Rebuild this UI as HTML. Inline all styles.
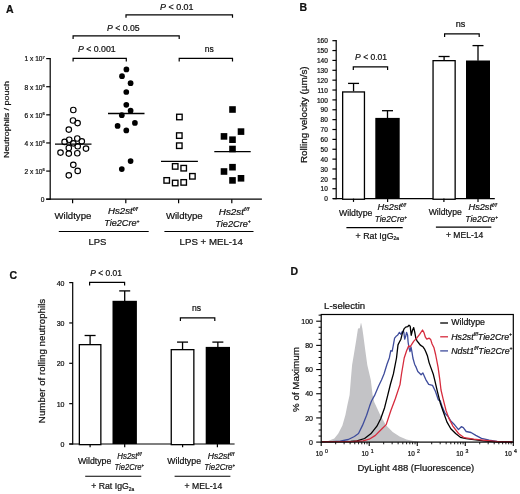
<!DOCTYPE html>
<html><head><meta charset="utf-8"><style>
html,body{margin:0;padding:0;background:#fff;}
svg{display:block;will-change:transform;}
text{font-family:"Liberation Sans",sans-serif;fill:#111;stroke:#111;stroke-width:0.22px;}
</style></head><body>
<svg width="520" height="494" viewBox="0 0 520 494">
<rect width="520" height="494" fill="#fff"/>
<text x="6" y="13.3" font-size="10.5" text-anchor="start" font-weight="bold">A</text>
<line x1="50.2" y1="58" x2="50.2" y2="199.8" stroke="#000" stroke-width="1.2"/>
<line x1="46.2" y1="58.6" x2="50.2" y2="58.6" stroke="#000" stroke-width="1.2"/>
<text x="44.9" y="61.4" font-size="6.6" text-anchor="end">1 x 10<tspan font-size="4.2" dy="-2.6">7</tspan></text>
<line x1="46.2" y1="86.72" x2="50.2" y2="86.72" stroke="#000" stroke-width="1.2"/>
<text x="44.9" y="89.52" font-size="6.6" text-anchor="end">8 x 10<tspan font-size="4.2" dy="-2.6">6</tspan></text>
<line x1="46.2" y1="114.84" x2="50.2" y2="114.84" stroke="#000" stroke-width="1.2"/>
<text x="44.9" y="117.64" font-size="6.6" text-anchor="end">6 x 10<tspan font-size="4.2" dy="-2.6">6</tspan></text>
<line x1="46.2" y1="142.96" x2="50.2" y2="142.96" stroke="#000" stroke-width="1.2"/>
<text x="44.9" y="145.76" font-size="6.6" text-anchor="end">4 x 10<tspan font-size="4.2" dy="-2.6">6</tspan></text>
<line x1="46.2" y1="171.08" x2="50.2" y2="171.08" stroke="#000" stroke-width="1.2"/>
<text x="44.9" y="173.88" font-size="6.6" text-anchor="end">2 x 10<tspan font-size="4.2" dy="-2.6">6</tspan></text>
<line x1="46.2" y1="199.2" x2="50.2" y2="199.2" stroke="#000" stroke-width="1.2"/>
<text x="44.4" y="202" font-size="6.6" text-anchor="end">0</text>
<line x1="46.2" y1="199.2" x2="261.9" y2="199.2" stroke="#000" stroke-width="1.2"/>
<line x1="72.6" y1="199.2" x2="72.6" y2="203.2" stroke="#000" stroke-width="1.2"/>
<line x1="125.8" y1="199.2" x2="125.8" y2="203.2" stroke="#000" stroke-width="1.2"/>
<line x1="178.6" y1="199.2" x2="178.6" y2="203.2" stroke="#000" stroke-width="1.2"/>
<line x1="231.8" y1="199.2" x2="231.8" y2="203.2" stroke="#000" stroke-width="1.2"/>
<text transform="translate(8.7,119.6) rotate(-90)" font-size="8.1" text-anchor="middle" textLength="76.9" lengthAdjust="spacingAndGlyphs">Neutrophils / pouch</text>
<path d="M126 17.8V14.8H232.5V17.8" fill="none" stroke="#000" stroke-width="1.2"/>
<path d="M73.1 39V35.8H179.2V39" fill="none" stroke="#000" stroke-width="1.2"/>
<path d="M73.1 61.5V58.3H126.3V61.5" fill="none" stroke="#000" stroke-width="1.2"/>
<path d="M179.2 61.5V58.3H232.5V61.5" fill="none" stroke="#000" stroke-width="1.2"/>
<text transform="translate(160 9.6) scale(1.04 1)" font-size="8.6" xml:space="preserve"><tspan font-style="italic">P</tspan><tspan> < 0.01</tspan></text>
<text transform="translate(107.1 31.3) scale(1.01 1)" font-size="8.6" xml:space="preserve"><tspan font-style="italic">P</tspan><tspan> < 0.05</tspan></text>
<text transform="translate(77.9 52.3) scale(1.02 1)" font-size="8.6" xml:space="preserve"><tspan font-style="italic">P</tspan><tspan> < 0.001</tspan></text>
<text transform="translate(204.8 52.3) scale(0.97 1)" font-size="8.8" xml:space="preserve"><tspan>ns</tspan></text>
<circle cx="73.3" cy="110" r="2.75" fill="none" stroke="#000" stroke-width="1.15"/>
<circle cx="73" cy="120.5" r="2.75" fill="none" stroke="#000" stroke-width="1.15"/>
<circle cx="77.6" cy="123.1" r="2.75" fill="none" stroke="#000" stroke-width="1.15"/>
<circle cx="68.8" cy="129.6" r="2.75" fill="none" stroke="#000" stroke-width="1.15"/>
<circle cx="64.6" cy="141.9" r="2.75" fill="none" stroke="#000" stroke-width="1.15"/>
<circle cx="69.2" cy="139.7" r="2.75" fill="none" stroke="#000" stroke-width="1.15"/>
<circle cx="77.3" cy="138.5" r="2.75" fill="none" stroke="#000" stroke-width="1.15"/>
<circle cx="81.8" cy="141.3" r="2.75" fill="none" stroke="#000" stroke-width="1.15"/>
<circle cx="73.3" cy="143.3" r="2.75" fill="none" stroke="#000" stroke-width="1.15"/>
<circle cx="68.8" cy="148" r="2.75" fill="none" stroke="#000" stroke-width="1.15"/>
<circle cx="77.7" cy="146.2" r="2.75" fill="none" stroke="#000" stroke-width="1.15"/>
<circle cx="86" cy="148.6" r="2.75" fill="none" stroke="#000" stroke-width="1.15"/>
<circle cx="60.5" cy="152.6" r="2.75" fill="none" stroke="#000" stroke-width="1.15"/>
<circle cx="68.8" cy="153.6" r="2.75" fill="none" stroke="#000" stroke-width="1.15"/>
<circle cx="77.3" cy="153.2" r="2.75" fill="none" stroke="#000" stroke-width="1.15"/>
<circle cx="73.3" cy="164.8" r="2.75" fill="none" stroke="#000" stroke-width="1.15"/>
<circle cx="77.7" cy="170.9" r="2.75" fill="none" stroke="#000" stroke-width="1.15"/>
<circle cx="68.8" cy="175.3" r="2.75" fill="none" stroke="#000" stroke-width="1.15"/>
<circle cx="126.4" cy="69.4" r="2.85" fill="#000"/>
<circle cx="122" cy="76.2" r="2.85" fill="#000"/>
<circle cx="130.6" cy="83.2" r="2.85" fill="#000"/>
<circle cx="126.3" cy="92" r="2.85" fill="#000"/>
<circle cx="126.3" cy="104.8" r="2.85" fill="#000"/>
<circle cx="130.6" cy="110.7" r="2.85" fill="#000"/>
<circle cx="121.8" cy="115.2" r="2.85" fill="#000"/>
<circle cx="134.9" cy="122.9" r="2.85" fill="#000"/>
<circle cx="117.6" cy="125.9" r="2.85" fill="#000"/>
<circle cx="126.3" cy="130.4" r="2.85" fill="#000"/>
<circle cx="130.6" cy="161.1" r="2.85" fill="#000"/>
<circle cx="121.8" cy="169.1" r="2.85" fill="#000"/>
<rect x="176.65" y="114.25" width="5.5" height="5.5" fill="none" stroke="#000" stroke-width="1.35"/>
<rect x="176.55" y="132.85" width="5.5" height="5.5" fill="none" stroke="#000" stroke-width="1.35"/>
<rect x="176.55" y="142.95" width="5.5" height="5.5" fill="none" stroke="#000" stroke-width="1.35"/>
<rect x="172.45" y="163.65" width="5.5" height="5.5" fill="none" stroke="#000" stroke-width="1.35"/>
<rect x="180.95" y="165.45" width="5.5" height="5.5" fill="none" stroke="#000" stroke-width="1.35"/>
<rect x="189.65" y="173.55" width="5.5" height="5.5" fill="none" stroke="#000" stroke-width="1.35"/>
<rect x="163.95" y="177.65" width="5.5" height="5.5" fill="none" stroke="#000" stroke-width="1.35"/>
<rect x="172.45" y="180.25" width="5.5" height="5.5" fill="none" stroke="#000" stroke-width="1.35"/>
<rect x="180.95" y="179.65" width="5.5" height="5.5" fill="none" stroke="#000" stroke-width="1.35"/>
<rect x="229.2" y="106.2" width="6.6" height="6.6" fill="#000"/>
<rect x="237.7" y="128.3" width="6.6" height="6.6" fill="#000"/>
<rect x="220.7" y="133.1" width="6.6" height="6.6" fill="#000"/>
<rect x="229.2" y="136.4" width="6.6" height="6.6" fill="#000"/>
<rect x="229.2" y="145.7" width="6.6" height="6.6" fill="#000"/>
<rect x="229.2" y="163.9" width="6.6" height="6.6" fill="#000"/>
<rect x="220.7" y="168.2" width="6.6" height="6.6" fill="#000"/>
<rect x="229.2" y="177.1" width="6.6" height="6.6" fill="#000"/>
<rect x="237.7" y="175" width="6.6" height="6.6" fill="#000"/>
<line x1="55" y1="144.1" x2="91.5" y2="144.1" stroke="#000" stroke-width="1.3"/>
<line x1="108" y1="113.5" x2="144.5" y2="113.5" stroke="#000" stroke-width="1.3"/>
<line x1="161" y1="161.3" x2="197.9" y2="161.3" stroke="#000" stroke-width="1.3"/>
<line x1="214.3" y1="151.6" x2="250.7" y2="151.6" stroke="#000" stroke-width="1.3"/>
<text transform="translate(54.5 219.1) scale(0.97 1)" font-size="9.9" xml:space="preserve"><tspan>Wildtype</tspan></text>
<text transform="translate(108 214.4) scale(1.03 1)" font-size="9.4" xml:space="preserve"><tspan font-style="italic">Hs2st</tspan><tspan font-style="italic" font-size="5.8" dy="-3.1">f/f</tspan></text>
<text transform="translate(104.2 226.4) scale(0.97 1)" font-size="9.4" xml:space="preserve"><tspan font-style="italic">Tie2Cre</tspan><tspan font-style="italic" font-size="5.2" dy="-3.1">+</tspan></text>
<line x1="58.8" y1="231.5" x2="148.7" y2="231.5" stroke="#000" stroke-width="1.1"/>
<text transform="translate(88.4 245.4) scale(0.99 1)" font-size="9.6" xml:space="preserve"><tspan>LPS</tspan></text>
<text transform="translate(165.9 219.2) scale(0.97 1)" font-size="9.9" xml:space="preserve"><tspan>Wildtype</tspan></text>
<text transform="translate(218.8 214.5) scale(1.05 1)" font-size="9.4" xml:space="preserve"><tspan font-style="italic">Hs2st</tspan><tspan font-style="italic" font-size="5.8" dy="-3.1">f/f</tspan></text>
<text transform="translate(215.2 226.5) scale(0.98 1)" font-size="9.4" xml:space="preserve"><tspan font-style="italic">Tie2Cre</tspan><tspan font-style="italic" font-size="5.2" dy="-3.1">+</tspan></text>
<line x1="164.4" y1="231.5" x2="253.5" y2="231.5" stroke="#000" stroke-width="1.1"/>
<text transform="translate(179.6 245.4) scale(1.01 1)" font-size="9.6" xml:space="preserve"><tspan>LPS + MEL-14</tspan></text>
<text x="299.6" y="11.2" font-size="10.5" text-anchor="start" font-weight="bold">B</text>
<line x1="336.2" y1="40.08" x2="336.2" y2="199.2" stroke="#000" stroke-width="1.2"/>
<line x1="332.4" y1="198.6" x2="336.2" y2="198.6" stroke="#000" stroke-width="1.2"/>
<text x="327.8" y="201.3" font-size="6.5" text-anchor="end">0</text>
<line x1="332.4" y1="188.73" x2="336.2" y2="188.73" stroke="#000" stroke-width="1.2"/>
<text x="327.8" y="191.43" font-size="6.5" text-anchor="end">10</text>
<line x1="332.4" y1="178.86" x2="336.2" y2="178.86" stroke="#000" stroke-width="1.2"/>
<text x="327.8" y="181.56" font-size="6.5" text-anchor="end">20</text>
<line x1="332.4" y1="168.99" x2="336.2" y2="168.99" stroke="#000" stroke-width="1.2"/>
<text x="327.8" y="171.69" font-size="6.5" text-anchor="end">30</text>
<line x1="332.4" y1="159.12" x2="336.2" y2="159.12" stroke="#000" stroke-width="1.2"/>
<text x="327.8" y="161.82" font-size="6.5" text-anchor="end">40</text>
<line x1="332.4" y1="149.25" x2="336.2" y2="149.25" stroke="#000" stroke-width="1.2"/>
<text x="327.8" y="151.95" font-size="6.5" text-anchor="end">50</text>
<line x1="332.4" y1="139.38" x2="336.2" y2="139.38" stroke="#000" stroke-width="1.2"/>
<text x="327.8" y="142.08" font-size="6.5" text-anchor="end">60</text>
<line x1="332.4" y1="129.51" x2="336.2" y2="129.51" stroke="#000" stroke-width="1.2"/>
<text x="327.8" y="132.21" font-size="6.5" text-anchor="end">70</text>
<line x1="332.4" y1="119.64" x2="336.2" y2="119.64" stroke="#000" stroke-width="1.2"/>
<text x="327.8" y="122.34" font-size="6.5" text-anchor="end">80</text>
<line x1="332.4" y1="109.77" x2="336.2" y2="109.77" stroke="#000" stroke-width="1.2"/>
<text x="327.8" y="112.47" font-size="6.5" text-anchor="end">90</text>
<line x1="332.4" y1="99.9" x2="336.2" y2="99.9" stroke="#000" stroke-width="1.2"/>
<text x="327.8" y="102.6" font-size="6.5" text-anchor="end">100</text>
<line x1="332.4" y1="90.03" x2="336.2" y2="90.03" stroke="#000" stroke-width="1.2"/>
<text x="327.8" y="92.73" font-size="6.5" text-anchor="end">110</text>
<line x1="332.4" y1="80.16" x2="336.2" y2="80.16" stroke="#000" stroke-width="1.2"/>
<text x="327.8" y="82.86" font-size="6.5" text-anchor="end">120</text>
<line x1="332.4" y1="70.29" x2="336.2" y2="70.29" stroke="#000" stroke-width="1.2"/>
<text x="327.8" y="72.99" font-size="6.5" text-anchor="end">130</text>
<line x1="332.4" y1="60.42" x2="336.2" y2="60.42" stroke="#000" stroke-width="1.2"/>
<text x="327.8" y="63.12" font-size="6.5" text-anchor="end">140</text>
<line x1="332.4" y1="50.55" x2="336.2" y2="50.55" stroke="#000" stroke-width="1.2"/>
<text x="327.8" y="53.25" font-size="6.5" text-anchor="end">150</text>
<line x1="332.4" y1="40.68" x2="336.2" y2="40.68" stroke="#000" stroke-width="1.2"/>
<text x="327.8" y="43.38" font-size="6.5" text-anchor="end">160</text>
<line x1="333" y1="198.6" x2="494.8" y2="198.6" stroke="#000" stroke-width="1.2"/>
<text transform="translate(307.4,114.7) rotate(-90)" font-size="8.4" text-anchor="middle" textLength="96.6" lengthAdjust="spacingAndGlyphs">Rolling velocity (µm/s)</text>
<line x1="353.55" y1="91.3" x2="353.55" y2="83.4" stroke="#000" stroke-width="1.3"/>
<line x1="348.05" y1="83.4" x2="359.05" y2="83.4" stroke="#000" stroke-width="1.3"/>
<rect x="342.65" y="91.95" width="21.8" height="107.3" fill="#fff" stroke="#000" stroke-width="1.3"/>
<line x1="387.5" y1="118.2" x2="387.5" y2="110.7" stroke="#000" stroke-width="1.3"/>
<line x1="382" y1="110.7" x2="393" y2="110.7" stroke="#000" stroke-width="1.3"/>
<rect x="375.3" y="117.9" width="24.4" height="80.7" fill="#000"/>
<line x1="444.1" y1="60" x2="444.1" y2="56.5" stroke="#000" stroke-width="1.3"/>
<line x1="438.6" y1="56.5" x2="449.6" y2="56.5" stroke="#000" stroke-width="1.3"/>
<rect x="433.05" y="60.65" width="22.1" height="138.6" fill="#fff" stroke="#000" stroke-width="1.3"/>
<line x1="478" y1="60.8" x2="478" y2="45.6" stroke="#000" stroke-width="1.3"/>
<line x1="472.5" y1="45.6" x2="483.5" y2="45.6" stroke="#000" stroke-width="1.3"/>
<rect x="466" y="60.5" width="24" height="138.1" fill="#000"/>
<line x1="353.5" y1="198.6" x2="353.5" y2="201.9" stroke="#000" stroke-width="1.2"/>
<line x1="387.6" y1="198.6" x2="387.6" y2="201.9" stroke="#000" stroke-width="1.2"/>
<line x1="443.9" y1="198.6" x2="443.9" y2="201.9" stroke="#000" stroke-width="1.2"/>
<line x1="478" y1="198.6" x2="478" y2="201.9" stroke="#000" stroke-width="1.2"/>
<path d="M353.3 70.1V66.9H387.6V70.1" fill="none" stroke="#000" stroke-width="1.2"/>
<text transform="translate(355.1 59.9) scale(1 1)" font-size="8.5" xml:space="preserve"><tspan font-style="italic">P</tspan><tspan> < 0.01</tspan></text>
<path d="M444.6 36.9V33.8H479.2V36.9" fill="none" stroke="#000" stroke-width="1.2"/>
<text transform="translate(455.8 27.3) scale(1.03 1)" font-size="8.8" xml:space="preserve"><tspan>ns</tspan></text>
<text transform="translate(339 215.5) scale(0.99 1)" font-size="8.8" xml:space="preserve"><tspan>Wildtype</tspan></text>
<text transform="translate(377.6 210.3) scale(0.98 1)" font-size="9.4" xml:space="preserve"><tspan font-style="italic">Hs2st</tspan><tspan font-style="italic" font-size="5.8" dy="-3.1">f/f</tspan></text>
<text transform="translate(374.7 222) scale(0.89 1)" font-size="9.4" xml:space="preserve"><tspan font-style="italic">Tie2Cre</tspan><tspan font-style="italic" font-size="5.2" dy="-3.1">+</tspan></text>
<line x1="346.4" y1="227.6" x2="402.7" y2="227.6" stroke="#000" stroke-width="1.1"/>
<text transform="translate(355.6 238.5) scale(0.98 1)" font-size="9" xml:space="preserve"><tspan>+ Rat IgG</tspan><tspan font-size="5" dy="1.98">2a</tspan></text>
<text transform="translate(428.7 215.1) scale(0.98 1)" font-size="8.8" xml:space="preserve"><tspan>Wildtype</tspan></text>
<text transform="translate(468.5 210) scale(0.98 1)" font-size="9.4" xml:space="preserve"><tspan font-style="italic">Hs2st</tspan><tspan font-style="italic" font-size="5.8" dy="-3.1">f/f</tspan></text>
<text transform="translate(465.3 221.8) scale(0.9 1)" font-size="9.4" xml:space="preserve"><tspan font-style="italic">Tie2Cre</tspan><tspan font-style="italic" font-size="5.2" dy="-3.1">+</tspan></text>
<line x1="435.9" y1="227.1" x2="491.3" y2="227.1" stroke="#000" stroke-width="1.1"/>
<text transform="translate(446 238) scale(0.96 1)" font-size="8.9" xml:space="preserve"><tspan>+ MEL-14</tspan></text>
<text x="9.6" y="279.3" font-size="10.5" text-anchor="start" font-weight="bold">C</text>
<line x1="72.7" y1="282" x2="72.7" y2="444.6" stroke="#000" stroke-width="1.2"/>
<line x1="69.2" y1="444" x2="72.7" y2="444" stroke="#000" stroke-width="1.2"/>
<text x="64.5" y="446.9" font-size="7" text-anchor="end">0</text>
<line x1="69.2" y1="403.65" x2="72.7" y2="403.65" stroke="#000" stroke-width="1.2"/>
<text x="64.5" y="406.55" font-size="7" text-anchor="end">10</text>
<line x1="69.2" y1="363.3" x2="72.7" y2="363.3" stroke="#000" stroke-width="1.2"/>
<text x="64.5" y="366.2" font-size="7" text-anchor="end">20</text>
<line x1="69.2" y1="322.95" x2="72.7" y2="322.95" stroke="#000" stroke-width="1.2"/>
<text x="64.5" y="325.85" font-size="7" text-anchor="end">30</text>
<line x1="69.2" y1="282.6" x2="72.7" y2="282.6" stroke="#000" stroke-width="1.2"/>
<text x="64.5" y="285.5" font-size="7" text-anchor="end">40</text>
<line x1="69.2" y1="444" x2="234.6" y2="444" stroke="#000" stroke-width="1.2"/>
<text transform="translate(44.6,361) rotate(-90)" font-size="8.6" text-anchor="middle" textLength="124.3" lengthAdjust="spacingAndGlyphs">Number of rolling neutrophils</text>
<line x1="90.1" y1="344" x2="90.1" y2="335.5" stroke="#000" stroke-width="1.3"/>
<line x1="84.6" y1="335.5" x2="95.6" y2="335.5" stroke="#000" stroke-width="1.3"/>
<rect x="79.35" y="344.65" width="21.5" height="100" fill="#fff" stroke="#000" stroke-width="1.3"/>
<line x1="124.7" y1="301.1" x2="124.7" y2="290.9" stroke="#000" stroke-width="1.3"/>
<line x1="119.2" y1="290.9" x2="130.2" y2="290.9" stroke="#000" stroke-width="1.3"/>
<rect x="112.5" y="300.8" width="24.4" height="143.2" fill="#000"/>
<line x1="182.55" y1="349" x2="182.55" y2="342.1" stroke="#000" stroke-width="1.3"/>
<line x1="177.05" y1="342.1" x2="188.05" y2="342.1" stroke="#000" stroke-width="1.3"/>
<rect x="171.25" y="349.65" width="22.6" height="95" fill="#fff" stroke="#000" stroke-width="1.3"/>
<line x1="217.85" y1="347.2" x2="217.85" y2="342.1" stroke="#000" stroke-width="1.3"/>
<line x1="212.35" y1="342.1" x2="223.35" y2="342.1" stroke="#000" stroke-width="1.3"/>
<rect x="205.7" y="346.9" width="24.3" height="97.1" fill="#000"/>
<line x1="90.1" y1="444" x2="90.1" y2="447.2" stroke="#000" stroke-width="1.2"/>
<line x1="124.7" y1="444" x2="124.7" y2="447.2" stroke="#000" stroke-width="1.2"/>
<line x1="182.6" y1="444" x2="182.6" y2="447.2" stroke="#000" stroke-width="1.2"/>
<line x1="217.4" y1="444" x2="217.4" y2="447.2" stroke="#000" stroke-width="1.2"/>
<path d="M89.6 285.5V282.4H124.6V285.5" fill="none" stroke="#000" stroke-width="1.2"/>
<text transform="translate(90.3 276.3) scale(0.99 1)" font-size="8.5" xml:space="preserve"><tspan font-style="italic">P</tspan><tspan> < 0.01</tspan></text>
<path d="M180.4 320.9V317.8H214.8V320.9" fill="none" stroke="#000" stroke-width="1.2"/>
<text transform="translate(191.9 311.1) scale(0.98 1)" font-size="8.8" xml:space="preserve"><tspan>ns</tspan></text>
<text transform="translate(77.9 464) scale(0.99 1)" font-size="8.8" xml:space="preserve"><tspan>Wildtype</tspan></text>
<text transform="translate(117.3 458.7) scale(0.84 1)" font-size="9.4" xml:space="preserve"><tspan font-style="italic">Hs2st</tspan><tspan font-style="italic" font-size="5.8" dy="-3.1">f/f</tspan></text>
<text transform="translate(114.4 470.2) scale(0.81 1)" font-size="9.4" xml:space="preserve"><tspan font-style="italic">Tie2Cre</tspan><tspan font-style="italic" font-size="5.2" dy="-3.1">+</tspan></text>
<line x1="85.2" y1="476.2" x2="141.3" y2="476.2" stroke="#000" stroke-width="1.1"/>
<text transform="translate(91.2 488.8) scale(0.97 1)" font-size="9" xml:space="preserve"><tspan>+ Rat IgG</tspan><tspan font-size="5" dy="1.98">2a</tspan></text>
<text transform="translate(167.3 464) scale(1 1)" font-size="8.8" xml:space="preserve"><tspan>Wildtype</tspan></text>
<text transform="translate(207.7 458.7) scale(0.92 1)" font-size="9.4" xml:space="preserve"><tspan font-style="italic">Hs2st</tspan><tspan font-style="italic" font-size="5.8" dy="-3.1">f/f</tspan></text>
<text transform="translate(204.2 470.2) scale(0.85 1)" font-size="9.4" xml:space="preserve"><tspan font-style="italic">Tie2Cre</tspan><tspan font-style="italic" font-size="5.2" dy="-3.1">+</tspan></text>
<line x1="174.6" y1="476.2" x2="230.4" y2="476.2" stroke="#000" stroke-width="1.1"/>
<text transform="translate(184.6 488.8) scale(0.97 1)" font-size="8.9" xml:space="preserve"><tspan>+ MEL-14</tspan></text>
<text x="290.4" y="274.7" font-size="10.5" text-anchor="start" font-weight="bold">D</text>
<text transform="translate(324.1 308.6) scale(1.01 1)" font-size="9.5" xml:space="preserve"><tspan>L-selectin</tspan></text>
<path d="M321.5 441.9 L323 441.6 L328 441.1 L334.3 438.5 L338.3 433.5 L342.4 425.4 L345.4 415 L347.4 405 L349.6 395 L350.8 380 L352.1 365 L353.7 355.5 L356.2 340.3 L358 328.4 L359.8 328.2 L361 322.6 L361.6 325 L362.3 328.2 L363.3 335.2 L365.3 350.4 L367.3 365 L370.8 380 L372.6 395 L374.2 401.9 L377 408 L380 414.6 L385.8 425 L392.7 431.9 L399.6 436.5 L406.5 439.4 L413.4 441.1 L420 441.8 L420 442.1 L321.5 442.1 Z" fill="#c3c3c6"/>
<polyline points="322,441.6 332.1,441.6 340.2,441.1 348.3,439.5 354.4,436.5 358.5,433.5 362.5,425.4 366.6,415.2 369.6,406.1 371.5,401 374.6,395.4 378.5,386.2 381.5,380 384,374 387,364.2 389.3,358 390.8,350.7 392.2,351.2 393.2,345.9 394.6,338.2 396.1,336.3 397.5,335.3 399.4,332.4 400.9,334.3 402.3,331.5 403.8,331.9 404.7,339.2 405.7,336.3 406.6,332.4 407.6,335.3 408.1,342 409,347.8 410,351.7 411,346.8 411.9,351.7 412.9,358 414.6,364.2 416.2,367.4 417.8,371.5 421.1,374.7 422.9,372.9 425.8,379.6 428.7,384.4 432.5,385.4 435.4,391.2 438.3,399.8 440.2,400.8 442.1,406.5 445,413.3 447.9,416.2 450.8,421 454.6,424.8 458.5,429.6 461.3,426.7 463.3,427.7 466.2,431.5 471,432.5 475.8,435.4 481.5,438.3 489.2,440.2 496.9,441.5 512.3,442" fill="none" stroke="#3e4c9c" stroke-width="1.3" stroke-linejoin="round"/>
<polyline points="322,441.7 340,441.7 350.8,441.5 356.9,440.8 364.6,438.5 370.8,433.8 376.9,426.2 380.8,418.5 384.6,407.7 387.7,395.4 390.5,384 393.4,373.9 396.5,358 398,344.9 399.4,342 400.9,339.2 402.3,333.4 404.2,328.6 405.7,327.1 407.6,326.7 409,325.2 410.2,326.2 411.2,335.3 412.4,330.5 413.7,327.6 414.8,332.4 415.8,338.2 417.2,341.1 418.7,343 420.1,344.9 421.5,345.9 423,346.8 424.4,348.8 425.9,352 427.5,356.1 429.1,362.6 430.8,367.4 433.2,373.9 434.8,380.4 437.3,391.2 440.2,402.7 443.1,411.3 446.9,421.9 450.8,428.7 455.6,433.5 460.4,437.3 466.2,438.7 473.8,439.6 483.5,440.8 496.9,441.8 512.5,442" fill="none" stroke="#000" stroke-width="1.3" stroke-linejoin="round"/>
<polyline points="322,441.8 345,441.7 353.8,441.5 363.1,440.8 369.2,439.2 375.4,435.4 381.5,429.2 386.2,424.6 390.8,410.8 395.4,398.5 400,384.6 401.5,374 404.2,358 406.6,350.7 408.6,345.9 410,346.8 411.4,344.9 413.8,341.1 416.7,338.2 419.6,334.3 422.5,330 423.9,332.4 425.4,337.2 426.8,339.2 429.2,338.2 430.7,339.6 432.1,344 434,347.8 435.6,354.5 438.1,367.4 439.7,378.8 441,390 443.1,398.8 446,410.4 448.8,418.1 452.7,425.8 458.5,433.5 464.2,437.7 473.8,439.2 485.4,440.4 500.8,441.9 512.5,442" fill="none" stroke="#d62b3d" stroke-width="1.3" stroke-linejoin="round"/>
<rect x="321.2" y="314.5" width="192.1" height="127.6" fill="none" stroke="#000" stroke-width="1.2"/>
<line x1="316.2" y1="442.1" x2="321.2" y2="442.1" stroke="#000" stroke-width="1.1"/>
<text x="313" y="444.7" font-size="7" text-anchor="end">0</text>
<line x1="318.6" y1="436.06" x2="321.2" y2="436.06" stroke="#000" stroke-width="1.0"/>
<line x1="318.6" y1="430.01" x2="321.2" y2="430.01" stroke="#000" stroke-width="1.0"/>
<line x1="318.6" y1="423.97" x2="321.2" y2="423.97" stroke="#000" stroke-width="1.0"/>
<line x1="316.2" y1="417.92" x2="321.2" y2="417.92" stroke="#000" stroke-width="1.1"/>
<text x="313" y="420.52" font-size="7" text-anchor="end">20</text>
<line x1="318.6" y1="411.88" x2="321.2" y2="411.88" stroke="#000" stroke-width="1.0"/>
<line x1="318.6" y1="405.83" x2="321.2" y2="405.83" stroke="#000" stroke-width="1.0"/>
<line x1="318.6" y1="399.79" x2="321.2" y2="399.79" stroke="#000" stroke-width="1.0"/>
<line x1="316.2" y1="393.74" x2="321.2" y2="393.74" stroke="#000" stroke-width="1.1"/>
<text x="313" y="396.34" font-size="7" text-anchor="end">40</text>
<line x1="318.6" y1="387.69" x2="321.2" y2="387.69" stroke="#000" stroke-width="1.0"/>
<line x1="318.6" y1="381.65" x2="321.2" y2="381.65" stroke="#000" stroke-width="1.0"/>
<line x1="318.6" y1="375.61" x2="321.2" y2="375.61" stroke="#000" stroke-width="1.0"/>
<line x1="316.2" y1="369.56" x2="321.2" y2="369.56" stroke="#000" stroke-width="1.1"/>
<text x="313" y="372.16" font-size="7" text-anchor="end">60</text>
<line x1="318.6" y1="363.51" x2="321.2" y2="363.51" stroke="#000" stroke-width="1.0"/>
<line x1="318.6" y1="357.47" x2="321.2" y2="357.47" stroke="#000" stroke-width="1.0"/>
<line x1="318.6" y1="351.43" x2="321.2" y2="351.43" stroke="#000" stroke-width="1.0"/>
<line x1="316.2" y1="345.38" x2="321.2" y2="345.38" stroke="#000" stroke-width="1.1"/>
<text x="313" y="347.98" font-size="7" text-anchor="end">80</text>
<line x1="318.6" y1="339.33" x2="321.2" y2="339.33" stroke="#000" stroke-width="1.0"/>
<line x1="318.6" y1="333.29" x2="321.2" y2="333.29" stroke="#000" stroke-width="1.0"/>
<line x1="318.6" y1="327.25" x2="321.2" y2="327.25" stroke="#000" stroke-width="1.0"/>
<line x1="316.2" y1="321.2" x2="321.2" y2="321.2" stroke="#000" stroke-width="1.1"/>
<text x="313" y="323.8" font-size="7" text-anchor="end">100</text>
<line x1="318.6" y1="315.15" x2="321.2" y2="315.15" stroke="#000" stroke-width="1.0"/>
<text transform="translate(299.4,379.6) rotate(-90)" font-size="8.8" text-anchor="middle" textLength="64.8" lengthAdjust="spacingAndGlyphs">% of Maximum</text>
<line x1="321.2" y1="442.1" x2="321.2" y2="446.1" stroke="#000" stroke-width="1.1"/>
<text x="315.7" y="455.8" font-size="6.4">10<tspan font-size="5.2" dx="2.2" dy="-3">0</tspan></text>
<line x1="335.66" y1="442.1" x2="335.66" y2="444.3" stroke="#000" stroke-width="0.9"/>
<line x1="344.11" y1="442.1" x2="344.11" y2="444.3" stroke="#000" stroke-width="0.9"/>
<line x1="350.11" y1="442.1" x2="350.11" y2="444.3" stroke="#000" stroke-width="0.9"/>
<line x1="354.77" y1="442.1" x2="354.77" y2="444.3" stroke="#000" stroke-width="0.9"/>
<line x1="358.57" y1="442.1" x2="358.57" y2="444.3" stroke="#000" stroke-width="0.9"/>
<line x1="361.79" y1="442.1" x2="361.79" y2="444.3" stroke="#000" stroke-width="0.9"/>
<line x1="364.57" y1="442.1" x2="364.57" y2="444.3" stroke="#000" stroke-width="0.9"/>
<line x1="367.03" y1="442.1" x2="367.03" y2="444.3" stroke="#000" stroke-width="0.9"/>
<line x1="369.22" y1="442.1" x2="369.22" y2="446.1" stroke="#000" stroke-width="1.1"/>
<text x="361.4" y="455.8" font-size="6.4">10<tspan font-size="5.2" dx="2.2" dy="-3">1</tspan></text>
<line x1="383.68" y1="442.1" x2="383.68" y2="444.3" stroke="#000" stroke-width="0.9"/>
<line x1="392.14" y1="442.1" x2="392.14" y2="444.3" stroke="#000" stroke-width="0.9"/>
<line x1="398.14" y1="442.1" x2="398.14" y2="444.3" stroke="#000" stroke-width="0.9"/>
<line x1="402.79" y1="442.1" x2="402.79" y2="444.3" stroke="#000" stroke-width="0.9"/>
<line x1="406.6" y1="442.1" x2="406.6" y2="444.3" stroke="#000" stroke-width="0.9"/>
<line x1="409.81" y1="442.1" x2="409.81" y2="444.3" stroke="#000" stroke-width="0.9"/>
<line x1="412.6" y1="442.1" x2="412.6" y2="444.3" stroke="#000" stroke-width="0.9"/>
<line x1="415.05" y1="442.1" x2="415.05" y2="444.3" stroke="#000" stroke-width="0.9"/>
<line x1="417.25" y1="442.1" x2="417.25" y2="446.1" stroke="#000" stroke-width="1.1"/>
<text x="407.7" y="455.8" font-size="6.4">10<tspan font-size="5.2" dx="2.2" dy="-3">2</tspan></text>
<line x1="431.71" y1="442.1" x2="431.71" y2="444.3" stroke="#000" stroke-width="0.9"/>
<line x1="440.16" y1="442.1" x2="440.16" y2="444.3" stroke="#000" stroke-width="0.9"/>
<line x1="446.16" y1="442.1" x2="446.16" y2="444.3" stroke="#000" stroke-width="0.9"/>
<line x1="450.82" y1="442.1" x2="450.82" y2="444.3" stroke="#000" stroke-width="0.9"/>
<line x1="454.62" y1="442.1" x2="454.62" y2="444.3" stroke="#000" stroke-width="0.9"/>
<line x1="457.84" y1="442.1" x2="457.84" y2="444.3" stroke="#000" stroke-width="0.9"/>
<line x1="460.62" y1="442.1" x2="460.62" y2="444.3" stroke="#000" stroke-width="0.9"/>
<line x1="463.08" y1="442.1" x2="463.08" y2="444.3" stroke="#000" stroke-width="0.9"/>
<line x1="465.27" y1="442.1" x2="465.27" y2="446.1" stroke="#000" stroke-width="1.1"/>
<text x="456.3" y="455.8" font-size="6.4">10<tspan font-size="5.2" dx="2.2" dy="-3">3</tspan></text>
<line x1="479.73" y1="442.1" x2="479.73" y2="444.3" stroke="#000" stroke-width="0.9"/>
<line x1="488.19" y1="442.1" x2="488.19" y2="444.3" stroke="#000" stroke-width="0.9"/>
<line x1="494.19" y1="442.1" x2="494.19" y2="444.3" stroke="#000" stroke-width="0.9"/>
<line x1="498.84" y1="442.1" x2="498.84" y2="444.3" stroke="#000" stroke-width="0.9"/>
<line x1="502.65" y1="442.1" x2="502.65" y2="444.3" stroke="#000" stroke-width="0.9"/>
<line x1="505.86" y1="442.1" x2="505.86" y2="444.3" stroke="#000" stroke-width="0.9"/>
<line x1="508.65" y1="442.1" x2="508.65" y2="444.3" stroke="#000" stroke-width="0.9"/>
<line x1="511.1" y1="442.1" x2="511.1" y2="444.3" stroke="#000" stroke-width="0.9"/>
<line x1="513.3" y1="442.1" x2="513.3" y2="446.1" stroke="#000" stroke-width="1.1"/>
<text x="504.8" y="455.8" font-size="6.4">10<tspan font-size="5.2" dx="2.2" dy="-3">4</tspan></text>
<text transform="translate(357.5 470.5) scale(1 1)" font-size="9.5" xml:space="preserve"><tspan>DyLight 488 (Fluorescence)</tspan></text>
<line x1="440.2" y1="323" x2="448" y2="323" stroke="#000" stroke-width="1.3"/>
<line x1="440.2" y1="336.8" x2="448" y2="336.8" stroke="#d62b3d" stroke-width="1.3"/>
<line x1="440.2" y1="350.9" x2="448" y2="350.9" stroke="#3e4c9c" stroke-width="1.3"/>
<text transform="translate(451.2 325.4) scale(1 1)" font-size="8.8" xml:space="preserve"><tspan>Wildtype</tspan></text>
<text x="451.2" y="339.6" font-size="8.8" font-style="italic">Hs2st<tspan font-size="5" dy="-3.4">f/f</tspan><tspan dy="3.4">Tie2Cre</tspan><tspan font-size="5" dy="-3.4">+</tspan></text>
<text x="451.2" y="353.7" font-size="8.8" font-style="italic">Ndst1<tspan font-size="5" dy="-3.4">f/f</tspan><tspan dy="3.4">Tie2Cre</tspan><tspan font-size="5" dy="-3.4">+</tspan></text>
</svg>
</body></html>
